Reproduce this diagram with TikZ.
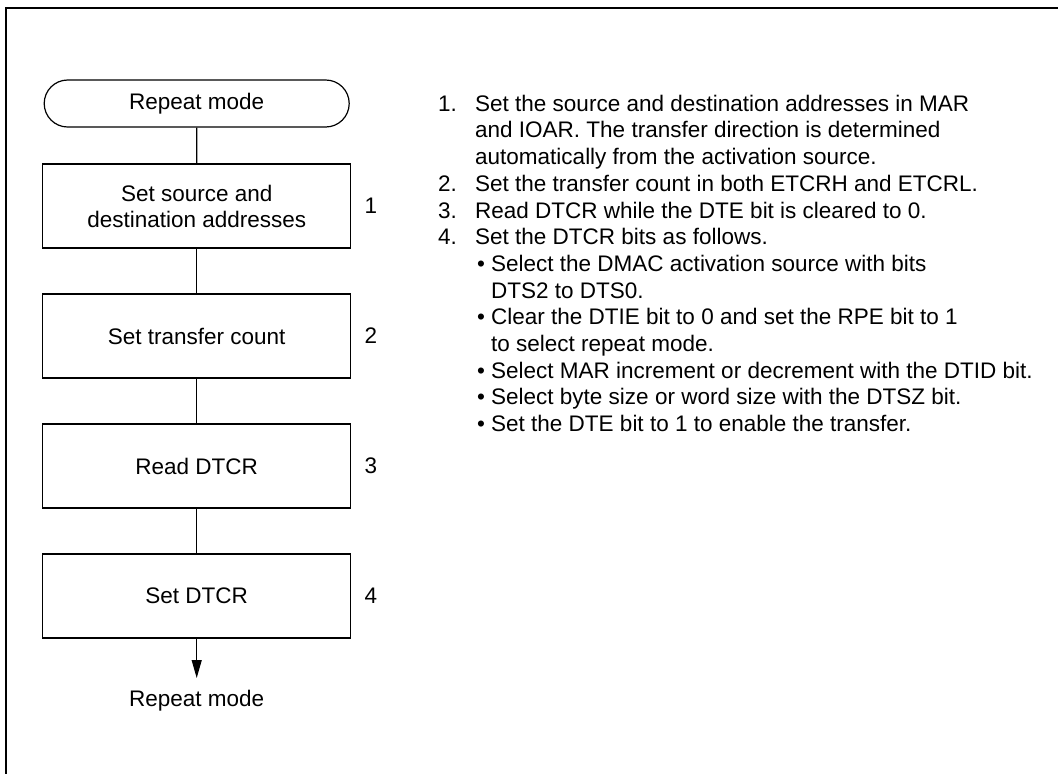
\documentclass[tikz,border=0pt]{standalone}
\usepackage{fontspec}
\setmainfont{Liberation Sans}
\usetikzlibrary{shapes.misc,arrows.meta}
\begin{document}
\begin{tikzpicture}[x=1pt,y=-1pt,
  every node/.style={font=\fontsize{22.5}{26}\selectfont},
  stepbox/.style={draw, line width=1.2pt, minimum width=308pt, minimum height=84pt, align=center, inner sep=0pt},
  termbox/.style={draw, line width=1.2pt, rounded rectangle, minimum width=305pt, minimum height=47pt, inner sep=0pt},
  conn/.style={line width=1.2pt},
  txt/.style={anchor=base west, inner sep=0pt},
  num/.style={inner sep=0pt}]
\useasboundingbox (0,0) rectangle (1058,774);
\draw[line width=1.4pt] (6,774) -- (6,8) -- (1058,8);
% flowchart
\node[termbox] (t0) at (196.7,103.5) {Repeat mode};
\node[stepbox] (b1) at (196.7,206) {Set source and\\destination addresses};
\node[stepbox] (b2) at (196.7,336) {Set transfer count};
\node[stepbox] (b3) at (196.7,466) {Read DTCR};
\node[stepbox] (b4) at (196.7,596) {Set DTCR};
\node[num] (n1) at (371,206) {1};
\node[num] (n2) at (371,336) {2};
\node[num] (n3) at (371,466) {3};
\node[num] (n4) at (371,596) {4};
\coordinate (e) at (196.7,678);
\node[anchor=base, inner sep=0pt] (t1) at (196.7,706.7) {Repeat mode};
\draw[conn] (t0) -- (b1);
\draw[conn] (b1) -- (b2);
\draw[conn] (b2) -- (b3);
\draw[conn] (b3) -- (b4);
\draw[conn, -{Triangle[length=18pt,width=10pt]}] (b4) -- (e);
% description
\node[txt] (k1) at (438,111.2) {1.};
\node[txt] (L1) at (475,111.2) {Set the source and destination addresses in MAR};
\node[txt] (L2) at (475,137.9) {and IOAR. The transfer direction is determined};
\node[txt] (L3) at (475,164.6) {automatically from the activation source.};
\node[txt] (k2) at (438,191.3) {2.};
\node[txt] (L4) at (475,191.3) {Set the transfer count in both ETCRH and ETCRL.};
\node[txt] (k3) at (438,218.0) {3.};
\node[txt] (L5) at (475,218.0) {Read DTCR while the DTE bit is cleared to 0.};
\node[txt] (k4) at (438,244.7) {4.};
\node[txt] (L6) at (475,244.7) {Set the DTCR bits as follows.};
\node[txt] (d1) at (477,271.4) {•};
\node[txt] (L7) at (491,271.4) {Select the DMAC activation source with bits};
\node[txt] (L8) at (491,298.1) {DTS2 to DTS0.};
\node[txt] (d2) at (477,324.8) {•};
\node[txt] (L9) at (491,324.8) {Clear the DTIE bit to 0 and set the RPE bit to 1};
\node[txt] (L10) at (491,351.5) {to select repeat mode.};
\node[txt] (d3) at (477,378.2) {•};
\node[txt] (L11) at (491,378.2) {Select MAR increment or decrement with the DTID bit.};
\node[txt] (d4) at (477,404.9) {•};
\node[txt] (L12) at (491,404.9) {Select byte size or word size with the DTSZ bit.};
\node[txt] (d5) at (477,431.6) {•};
\node[txt] (L13) at (491,431.6) {Set the DTE bit to 1 to enable the transfer.};
\end{tikzpicture}
\end{document}
